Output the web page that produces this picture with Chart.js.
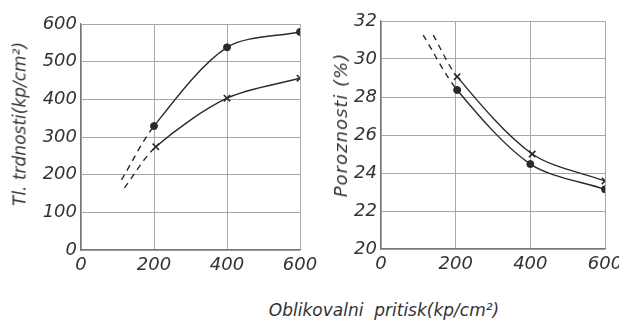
<!DOCTYPE html>
<html>
<head>
<meta charset="utf-8">
<script src="https://cdn.jsdelivr.net/npm/chart.js@4/dist/chart.umd.min.js"></script>
<style>
  html, body { margin: 0; padding: 0; background: #fff; overflow: hidden; width: 619px; height: 320px; }
  #wrap { position: relative; width: 619px; height: 320px; overflow: hidden; }
  .cv { position: absolute; top: 0; }
  .lbl { position: absolute; font-family: 'DejaVu Sans', sans-serif; font-style: italic; color: #333; white-space: pre; line-height: 1; }
  .rot { transform: translate(-50%, -50%) rotate(-90deg); }
  .hor { transform: translate(-50%, -50%); }
</style>
</head>
<body>
<div id="wrap">
  <div class="cv" style="left:0px;width:325px;height:290px;"><canvas id="c1"></canvas></div>
  <div class="cv" style="left:300px;width:330px;height:290px;"><canvas id="c2"></canvas></div>
  <div class="lbl rot" style="left:20px;top:124px;font-size:17px;">Tl. trdnosti(kp/cm²)</div>
  <div class="lbl rot" style="left:341px;top:125px;font-size:18px;letter-spacing:1px;">Poroznosti (%)</div>
  <div class="lbl hor" style="left:384px;top:310px;font-size:17px;">Oblikovalni  pritisk(kp/cm²)</div>
</div>
<script>
// ---- data ----
const pressureTicks = [0, 200, 400, 600];
const strengthTicks = [0, 100, 200, 300, 400, 500, 600];
const porosityTicks = [20, 22, 24, 26, 28, 30, 32];

// left panel: compressive strength (kp/cm2); first point = start of the dashed extrapolation
const strengthDotX = [111, 200, 400, 600];
const strengthDotY = [186, 329, 538, 579];
const strengthCrossX = [119, 205, 400, 600];
const strengthCrossY = [165, 274, 403, 456];

// right panel: porosity (%); first point = start of the dashed extrapolation
const porosityDotX = [113, 204, 400, 600];
const porosityDotY = [31.26, 28.37, 24.47, 23.14];
const porosityCrossX = [140, 204, 405, 600];
const porosityCrossY = [31.26, 29.07, 25.0, 23.58];

const pts = (xs, ys) => xs.map((x, i) => ({ x: x, y: ys[i] }));
const INK = '#2a2a2a';
const tickFont = { family: "'DejaVu Sans', sans-serif", size: 18, style: 'italic', weight: 'normal' };

function series(xs, ys, style) {
  const r = style === 'circle' ? 3.5 : 4.5;
  return {
    data: pts(xs, ys), borderColor: INK, backgroundColor: INK, borderWidth: 1.4,
    tension: 0.3, pointStyle: style,
    pointRadius: xs.map((_, i) => i === 0 ? 0 : r),
    pointBorderWidth: style === 'circle' ? 1 : 1.6,
    pointBorderColor: INK, pointBackgroundColor: INK, fill: false,
    segment: { borderDash: ctx => ctx.p0DataIndex === 0 ? [6, 5] : [] }
  };
}

function makeChart(id, datasets, yTicks, yMin, yMax, padTop, areaBottom, canvasH) {
  return new Chart(document.getElementById(id), {
    type: 'line',
    data: { datasets: datasets },
    options: {
      responsive: true, maintainAspectRatio: false, animation: false,
      layout: { padding: { top: padTop, right: 25, left: 0, bottom: 0 } },
      plugins: { legend: { display: false }, tooltip: { enabled: false } },
      scales: {
        x: {
          type: 'linear', min: 0, max: 600,
          afterBuildTicks: s => { s.ticks = pressureTicks.map(v => ({ value: v })); },
          afterFit: s => { s.height = canvasH - areaBottom; },
          grid: { color: '#a8a8a8', lineWidth: 1, drawTicks: false },
          border: { color: '#777', width: 1.2 },
          ticks: { font: tickFont, color: '#333', padding: 5, maxRotation: 0 }
        },
        y: {
          type: 'linear', min: yMin, max: yMax,
          afterBuildTicks: s => { s.ticks = yTicks.map(v => ({ value: v })); },
          afterFit: s => { s.width = 81; },
          grid: { color: '#a8a8a8', lineWidth: 1, drawTicks: false },
          border: { color: '#777', width: 1.2 },
          ticks: { font: tickFont, color: '#333', padding: 4 }
        }
      }
    }
  });
}

makeChart('c1', [
  series(strengthDotX, strengthDotY, 'circle'),
  series(strengthCrossX, strengthCrossY, 'crossRot')
], strengthTicks, 0, 600, 24, 250, 290);

makeChart('c2', [
  series(porosityDotX, porosityDotY, 'circle'),
  series(porosityCrossX, porosityCrossY, 'crossRot')
], porosityTicks, 20, 32, 21, 249, 290);
</script>
</body>
</html>
